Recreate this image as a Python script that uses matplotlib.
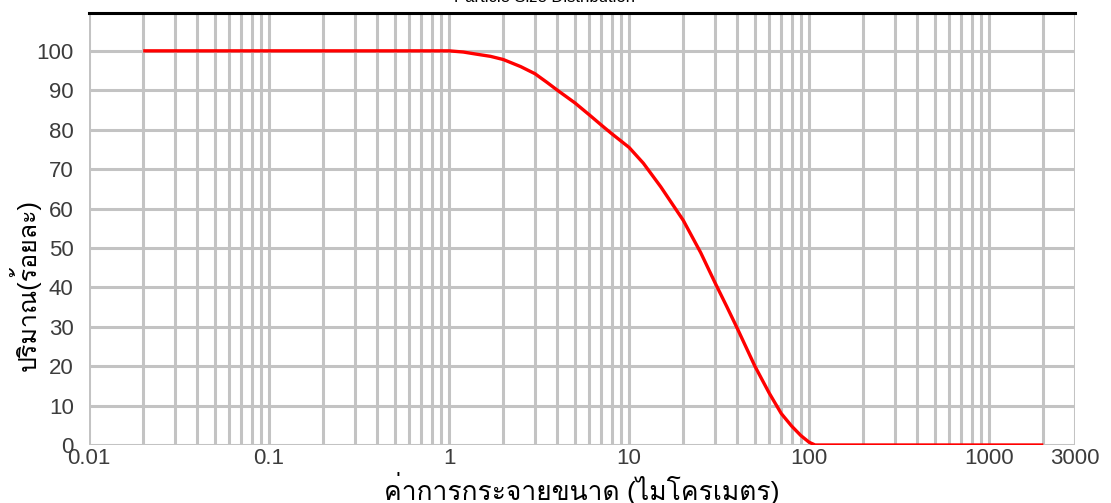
import numpy as np
import matplotlib
matplotlib.use("Agg")
import matplotlib.pyplot as plt
from matplotlib import font_manager
from matplotlib.ft2font import FT2Font
from matplotlib.ticker import FixedLocator, NullFormatter

# particle size (micrometre) vs. cumulative amount (%)
size_um = [0.02, 1.0, 1.2, 1.4, 1.7, 2.0, 2.5, 3.0, 3.5, 4.0, 5.0, 6.0,
           7.0, 8.0, 10, 12, 15, 20, 25, 30, 35, 40, 50, 60, 70, 80, 90,
           100, 108, 2000]
amount_pct = [100, 100, 99.7, 99.2, 98.6, 97.8, 96, 94.2, 92, 90, 86.8,
              83.8, 81.2, 79, 75.5, 71.5, 65.5, 57, 48.8, 41.2, 35, 29.5,
              20, 13.2, 8, 4.8, 2.4, 0.7, 0, 0]

xtick_vals = [0.01, 0.1, 1, 10, 100, 1000, 3000]
xtick_text = ["0.01", "0.1", "1", "10", "100", "1000", "3000"]
ytick_vals = list(range(0, 101, 10))


def thai_font():
    for f in font_manager.fontManager.ttflist:
        try:
            if 0x0E01 in FT2Font(f.fname).get_charmap():
                return f.name
        except Exception:
            pass
    return "DejaVu Sans"


thai = thai_font()
plt.rcParams["font.family"] = ["Liberation Sans", thai, "DejaVu Sans"]

fig = plt.figure(figsize=(11.11, 5.03), dpi=100)
ax = fig.add_axes([89 / 1111, 1 - 445 / 503, (1075 - 89) / 1111, (445 - 13) / 503])

ax.set_xscale("log")
ax.set_xlim(0.01, 3000)
ax.set_ylim(0, 109.6)

# grid: every integer multiple in each decade, up to 3000
minor = [m * 10.0 ** e for e in range(-2, 4) for m in range(1, 10)]
minor = [v for v in minor if v <= 3000]
ax.xaxis.set_minor_locator(FixedLocator(minor))
ax.xaxis.set_minor_formatter(NullFormatter())
ax.xaxis.set_major_locator(FixedLocator(xtick_vals))
ax.set_xticklabels(xtick_text)
ax.set_yticks(ytick_vals)

grid = "#c3c3c3"
for v in minor:
    ax.axvline(v, color=grid, lw=2.2, zorder=1)
for v in ytick_vals:
    ax.axhline(v, color=grid, lw=2.2, zorder=1)

ax.plot(size_um, amount_pct, color="#ff0000", lw=2.4, zorder=3,
        solid_capstyle="butt", solid_joinstyle="round")

for s in ("left", "right", "bottom"):
    ax.spines[s].set_visible(False)
ax.spines["top"].set_color("black")
ax.spines["top"].set_linewidth(2.2)

ax.tick_params(axis="both", which="both", length=0, labelsize=16,
               labelcolor="#3c3c3c")
ax.tick_params(axis="x", pad=2)
ax.tick_params(axis="y", pad=11)

ax.set_xlabel("ค่าการกระจายขนาด (ไมโครเมตร)", fontsize=19, color="black")
ax.xaxis.set_label_coords(0.5, -0.062)
ax.set_ylabel("ปริมาณ(ร้อยละ)", fontsize=18, color="black")
ax.yaxis.set_label_coords(-0.049, 0.37)

fig.text(0.49, 1 - 5 / 503, "Particle Size Distribution", fontsize=12,
         ha="center", va="bottom", color="black")

fig.savefig("out.png", dpi=100)
